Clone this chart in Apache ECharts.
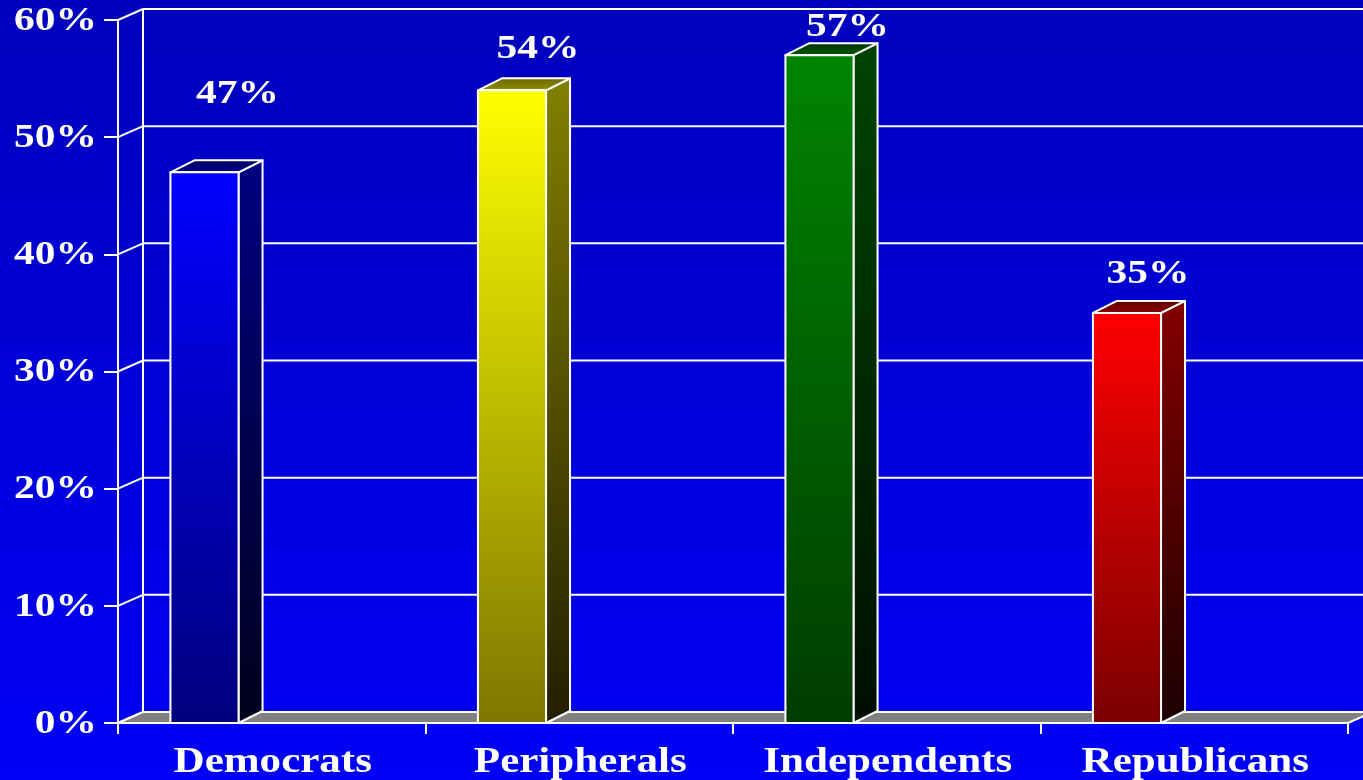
<!DOCTYPE html>
<html>
<head>
<meta charset="utf-8">
<style>
  html, body { margin: 0; padding: 0; background: #0000d0; }
  #chart { width: 1363px; height: 780px; }
</style>
<script src="https://cdn.jsdelivr.net/npm/echarts@6/dist/echarts.min.js"></script>
</head>
<body>
<div id="chart"></div>
<script>
// ---------------- data ----------------
const categories = ['Democrats', 'Peripherals', 'Independents', 'Republicans'];
const values = [47, 54, 57, 35];
const valueLabels = ['47%', '54%', '57%', '35%'];
const yTicks = [0, 10, 20, 30, 40, 50, 60];
const yTickLabels = ['0%', '10%', '20%', '30%', '40%', '50%', '60%'];

// ---------------- styles ----------------
const FONT_NUM = 'bold 34px "Liberation Serif", "Times New Roman", serif';
const FONT_CAT = 'bold 35px "Liberation Serif", "Times New Roman", serif';
const STRETCH_NUM = 1.22;         // horizontal stretch of the reference text
const STRETCH_CAT = 1.23;
const DEPTH_X = 25, DEPTH_Y = 11; // 3D wall depth
const BAR_DX = 24, BAR_DY = 12;   // 3D bar depth
const barColors = [
  { front: ['#0000ff', '#00007c'], side: ['#000082', '#00001c'], top: ['#000090', '#00005a'] },
  { front: ['#ffff00', '#7c7600'], side: ['#828000', '#221e00'], top: ['#909000', '#6a6600'] },
  { front: ['#008400', '#003c00'], side: ['#004400', '#000e00'], top: ['#005a00', '#003000'] },
  { front: ['#ff0000', '#7a0000'], side: ['#840000', '#1c0000'], top: ['#900000', '#600000'] }
];
const labelShift = [[33, -78], [26, -41], [28, -28], [21, -39]];

function grad(c) {
  return { type: 'linear', x: 0, y: 0, x2: 0, y2: 1,
    colorStops: [{ offset: 0, color: c[0] }, { offset: 1, color: c[1] }] };
}

const chart = echarts.init(document.getElementById('chart'));

const option = {
  animation: false,
  backgroundColor: { type: 'linear', x: 0, y: 0, x2: 0, y2: 1,
    colorStops: [{ offset: 0, color: '#0000bc' }, { offset: 1, color: '#0000f6' }] },
  grid: { left: 118, right: 15, top: 20, bottom: 57 },
  xAxis: {
    type: 'category',
    data: categories,
    axisLine: { show: true, lineStyle: { color: '#ffffff', width: 2 } },
    axisTick: { show: true, length: 11, lineStyle: { color: '#ffffff', width: 2 } },
    axisLabel: { show: false },
    splitLine: { show: false }
  },
  yAxis: {
    type: 'value',
    min: 0, max: 60, interval: 10,
    axisLine: { show: true, lineStyle: { color: '#ffffff', width: 2 } },
    axisTick: { show: true, length: 14, lineStyle: { color: '#ffffff', width: 2 } },
    axisLabel: { show: false },
    splitLine: { show: false }
  },
  series: [
    {
      // back wall grid, floor, y tick labels
      type: 'custom',
      z: 1,
      clip: false,
      data: yTicks.map(v => [0, v]),
      renderItem: function (params, api) {
        const v = api.value(1);
        const band = api.size([1, 0])[0];
        const p = api.coord([0, v]);
        const y = p[1];
        const xL = p[0] - band / 2;
        const xR = api.coord([categories.length - 1, v])[0] + band / 2;
        const children = [];
        const ls = { stroke: '#ffffff', lineWidth: 2 };
        children.push({ type: 'line', shape: { x1: xL, y1: y, x2: xL + DEPTH_X, y2: y - DEPTH_Y }, style: ls });
        children.push({ type: 'line', shape: { x1: xL + DEPTH_X, y1: y - DEPTH_Y, x2: xR + DEPTH_X + 20, y2: y - DEPTH_Y }, style: ls });
        if (params.dataIndex === 0) {
          const yTop = api.coord([0, yTicks[yTicks.length - 1]])[1];
          children.push({ type: 'line', shape: { x1: xL + DEPTH_X, y1: y - DEPTH_Y, x2: xL + DEPTH_X, y2: yTop - DEPTH_Y }, style: ls });
          children.push({ type: 'polygon',
            shape: { points: [[xL, y], [xL + DEPTH_X, y - DEPTH_Y], [xR + DEPTH_X, y - DEPTH_Y], [xR, y]] },
            style: { fill: '#808080', stroke: '#ffffff', lineWidth: 2 } });
        }
        children.push({ type: 'text', x: xL - 21, y: y + 1, scaleX: STRETCH_NUM,
          style: { text: yTickLabels[params.dataIndex], font: FONT_NUM, fill: '#ffffff',
            align: 'right', verticalAlign: 'middle', textAlign: 'right', textVerticalAlign: 'middle' } });
        return { type: 'group', children: children };
      }
    },
    {
      // 3D bars, value labels, category labels
      type: 'custom',
      z: 3,
      clip: false,
      data: values.map((v, i) => [i, v]),
      renderItem: function (params, api) {
        const i = params.dataIndex;
        const band = api.size([1, 0])[0];
        const top = api.coord([api.value(0), api.value(1)]);
        const base = api.coord([api.value(0), 0]);
        const cx = top[0];
        const x0 = cx - band * 0.3295;
        const w = band * 0.2215;
        const x1 = x0 + w;
        const yT = top[1], yB = base[1];
        const c = barColors[i];
        const st = { stroke: '#ffffff', lineWidth: 2, lineJoin: 'round' };
        return { type: 'group', children: [
          { type: 'polygon', shape: { points: [[x1, yB], [x1 + BAR_DX, yB - BAR_DY], [x1 + BAR_DX, yT - BAR_DY], [x1, yT]] },
            style: Object.assign({ fill: grad(c.side) }, st) },
          { type: 'polygon', shape: { points: [[x0, yT], [x0 + BAR_DX, yT - BAR_DY], [x1 + BAR_DX, yT - BAR_DY], [x1, yT]] },
            style: Object.assign({ fill: { type: 'linear', x: 0, y: 1, x2: 0, y2: 0,
              colorStops: [{ offset: 0, color: c.top[0] }, { offset: 1, color: c.top[1] }] } }, st) },
          { type: 'rect', shape: { x: x0, y: yT, width: w, height: yB - yT },
            style: Object.assign({ fill: grad(c.front) }, st) },
          { type: 'text', x: (x0 + x1) / 2 + labelShift[i][0], y: yT + labelShift[i][1], scaleX: STRETCH_NUM,
            style: { text: valueLabels[i], font: FONT_NUM, fill: '#ffffff',
              align: 'center', verticalAlign: 'middle', textAlign: 'center', textVerticalAlign: 'middle' } },
          { type: 'text', x: cx + 1, y: yB + 40, scaleX: STRETCH_CAT,
            style: { text: categories[i], font: FONT_CAT, fill: '#ffffff',
              align: 'center', verticalAlign: 'middle', textAlign: 'center', textVerticalAlign: 'middle' } }
        ] };
      }
    }
  ]
};

chart.setOption(option);
</script>
</body>
</html>
